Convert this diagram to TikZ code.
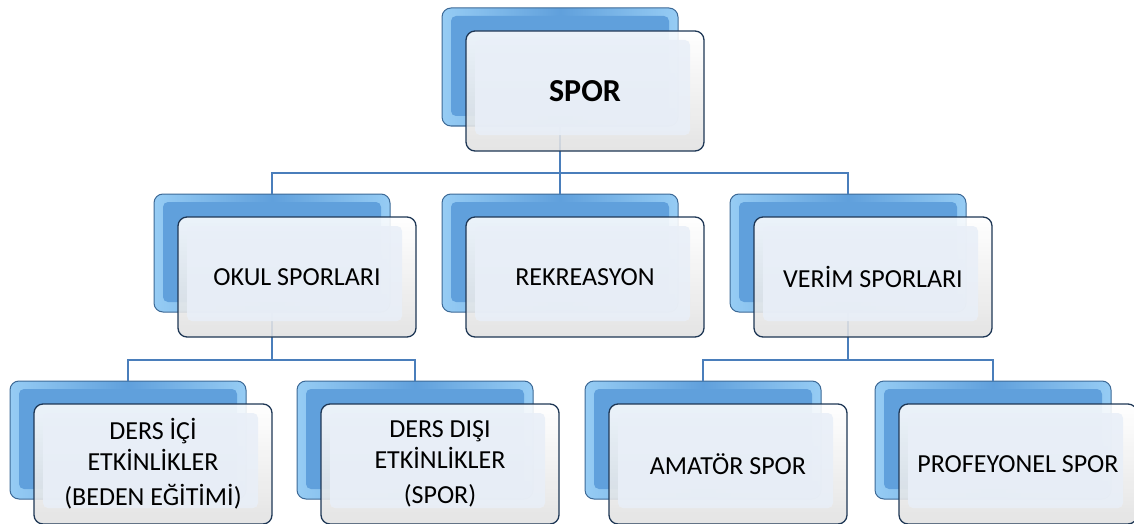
\documentclass[tikz,border=0pt]{standalone}
\usepackage{fontspec}
\setmainfont{Carlito}
\usetikzlibrary{positioning}
\definecolor{backface}{RGB}{96,160,220}
\definecolor{backlight}{RGB}{150,204,244}
\definecolor{backedge}{RGB}{60,105,150}
\definecolor{frontface}{RGB}{233,239,248}
\definecolor{frontedge}{RGB}{30,55,85}
\definecolor{connblue}{RGB}{74,126,187}

\begin{document}
\begin{tikzpicture}[
  x = 1pt, y = -1pt,
  backbox/.style = {draw=backedge, line width=1pt, rounded corners=9pt,
    minimum width=236pt, minimum height=118pt,
    left color=backlight, right color=backlight, middle color=backface,
    path picture={\fill[backface, rounded corners=5pt]
      ([shift={(9,8)}]path picture bounding box.north west) rectangle
      ([shift={(-9,-10)}]path picture bounding box.south east);}},
  frontbox/.style = {draw=frontedge, line width=1.3pt, rounded corners=9pt,
    minimum width=238pt, minimum height=120pt,
    fill opacity=0.88, text opacity=1, top color=white, bottom color=black!12,
    path picture={\fill[frontface, fill opacity=0.88, rounded corners=5pt]
      ([shift={(9,9)}]path picture bounding box.north west) rectangle
      ([shift={(-14,-16)}]path picture bounding box.south east);},
    font=\fontsize{26}{31}\selectfont, align=center},
  conn/.style = {draw=connblue, line width=2.6pt}
  ]
  \useasboundingbox (0,0) rectangle (1134,524);

  \node[backbox] (spor) at (560,67) {};
  \node[backbox] (okul) at (272,253) {};
  \node[backbox] (rek) at (560,253) {};
  \node[backbox] (verim) at (848,253) {};
  \node[backbox] (dersici) at (128,440) {};
  \node[backbox] (dersdisi) at (415,440) {};
  \node[backbox] (amator) at (703,440) {};
  \node[backbox] (prof) at (993,440) {};

  \coordinate (bus1) at (560,173);
  \coordinate (bus2) at (272,360);
  \coordinate (bus3) at (848,360);
  \draw[conn] (spor.south) -- (bus1);
  \draw[conn] (okul.north) |- (bus1) -| (verim.north);
  \draw[conn] (bus1) -- (rek.north);
  \draw[conn] (okul.south) -- (bus2);
  \draw[conn] (dersici.north) |- (bus2) -| (dersdisi.north);
  \draw[conn] (verim.south) -- (bus3);
  \draw[conn] (amator.north) |- (bus3) -| (prof.north);

  \node[frontbox, font=\bfseries\fontsize{32}{38}\selectfont] (spor-f) at ([shift={(25,24)}]spor.center) {SPOR};
  \node[frontbox] (okul-f) at ([shift={(25,24)}]okul.center) {OKUL SPORLARI};
  \node[frontbox] (rek-f) at ([shift={(25,24)}]rek.center) {REKREASYON};
  \node[frontbox] (verim-f) at ([shift={(25,24)}]verim.center) {VERİM SPORLARI};
  \node[frontbox] (dersici-f) at ([shift={(25,24)}]dersici.center) {DERS İÇİ\\ETKİNLİKLER\\[4pt](BEDEN EĞİTİMİ)};
  \node[frontbox] (dersdisi-f) at ([shift={(25,24)}]dersdisi.center) {DERS DIŞI\\ETKİNLİKLER\\[4pt](SPOR)};
  \node[frontbox] (amator-f) at ([shift={(25,24)}]amator.center) {AMATÖR SPOR};
  \node[frontbox] (prof-f) at ([shift={(25,24)}]prof.center) {PROFEYONEL SPOR};
\end{tikzpicture}
\end{document}
